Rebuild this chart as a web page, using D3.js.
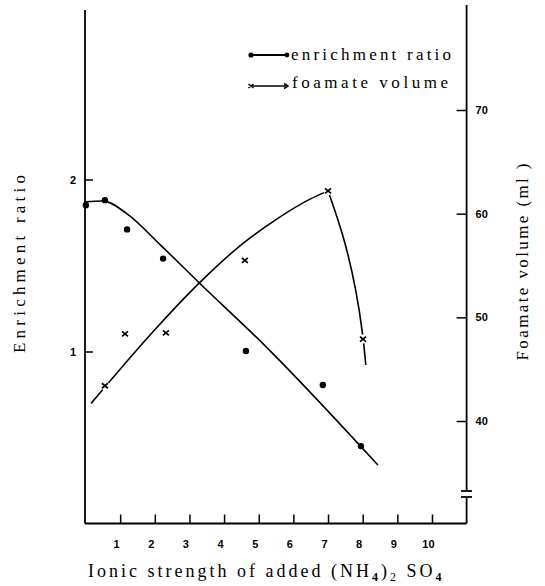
<!DOCTYPE html>
<html>
  <head>
    <script src='https://d3js.org/d3.v7.min.js'></script>
    <style type='text/css'>
      body, html {
        margin: 0;
        padding: 0;
        background: #fff;
      }
      svg {
        display: block;
      }
    </style>
  </head>
  <body>
    <svg width='545' height='586'></svg>

    <script type='text/javascript'>
      var enrichX = [0.01, 0.56, 1.2, 2.24, 4.63, 6.85, 7.95]
      var enrichY = [1.85, 1.88, 1.71, 1.54, 1.003, 0.805, 0.45]

      var foamX = [0.56, 1.14, 2.32, 4.6, 7.0, 8.01]
      var foamY = [43.4, 48.4, 48.5, 55.5, 62.2, 47.9]

      // hand drawn fitted curves
      var enrichFitX = [0, 0.5, 1.2, 2.16, 3.28, 5.2, 8.44]
      var enrichFitY = [1.87, 1.875, 1.8, 1.62, 1.4, 1.03, 0.34]

      var foamRiseX = [0.16, 1.0, 2.0, 3.28, 4.46, 5.53, 6.48, 7.0]
      var foamRiseY = [41.7, 45.0, 48.8, 53.3, 56.9, 59.5, 61.4, 62.2]

      var foamFallX = [7.0, 7.45, 7.8, 8.0, 8.09]
      var foamFallY = [62.2, 57.6, 52.6, 48.3, 45.4]

      var xTicks = [1, 2, 3, 4, 5, 6, 7, 8, 9, 10]
      var leftTicks = [1, 2]
      var rightTicks = [40, 50, 60, 70]

      var svg = d3.select('svg')
      var serif = "'Liberation Serif', 'DejaVu Serif', serif"
      var tickFont = "'Liberation Sans', Arial, sans-serif"

      var x = d3.scaleLinear().domain([0, 11]).range([85.5, 466.6])
      var yL = d3.scaleLinear().domain([0, 2]).range([523.5, 179.5])
      var yR = d3.scaleLinear().domain([40, 70]).range([421, 110])

      function zip(a, b) {
        return a.map(function(v, i) { return [v, b[i]] })
      }

      // axes (ticks + labels from d3, spines drawn by hand)
      var gLeft = svg.append('g')
          .attr('transform', 'translate(85,0)')
          .call(d3.axisLeft(yL).tickValues(leftTicks).tickFormat(d3.format('d')).tickSize(-8).tickPadding(9))
      var gBottom = svg.append('g')
          .attr('transform', 'translate(0,523.5)')
          .call(d3.axisBottom(x).tickValues(xTicks).tickFormat(d3.format('d')).tickSize(-9).tickPadding(17))
      var gRight = svg.append('g')
          .attr('transform', 'translate(466.6,0)')
          .call(d3.axisRight(yR).tickValues(rightTicks).tickFormat(d3.format('d')).tickSize(-10).tickPadding(9))

      ;[gLeft, gBottom, gRight].forEach(function(g) {
        g.select('.domain').remove()
        g.selectAll('line').attr('stroke', '#000').attr('stroke-width', 1.5)
        g.selectAll('text')
          .attr('fill', '#000')
          .style('font-family', tickFont)
          .style('font-weight', 'bold')
          .style('font-size', '11px')
      })
      gBottom.selectAll('text').attr('dx', -4)

      var spine = svg.append('g')
          .attr('stroke', '#000')
          .attr('stroke-width', 1.8)
          .attr('fill', 'none')
      spine.append('line').attr('x1', 85).attr('x2', 85).attr('y1', 10).attr('y2', 523.5)
      spine.append('line').attr('x1', 85).attr('x2', 466.6).attr('y1', 523.5).attr('y2', 523.5)
      spine.append('line').attr('x1', 466.6).attr('x2', 466.6).attr('y1', 5).attr('y2', 491)
      spine.append('line').attr('x1', 466.6).attr('x2', 466.6).attr('y1', 497).attr('y2', 523.5)
      spine.append('line').attr('x1', 461).attr('x2', 472).attr('y1', 491).attr('y2', 491)
      spine.append('line').attr('x1', 461).attr('x2', 472).attr('y1', 497).attr('y2', 497)

      // fitted curves
      var lineL = d3.line()
          .x(function(d) { return x(d[0]) })
          .y(function(d) { return yL(d[1]) })
          .curve(d3.curveMonotoneX)
      var lineR = d3.line()
          .x(function(d) { return x(d[0]) })
          .y(function(d) { return yR(d[1]) })
          .curve(d3.curveMonotoneX)

      var curves = svg.append('g')
          .attr('fill', 'none')
          .attr('stroke', '#000')
          .attr('stroke-width', 1.6)
      curves.append('path').attr('d', lineL(zip(enrichFitX, enrichFitY)))
      curves.append('path').attr('d', lineR(zip(foamRiseX, foamRiseY)))
      curves.append('path').attr('d', lineR.curve(d3.curveNatural)(zip(foamFallX, foamFallY)))

      // markers
      svg.append('g').selectAll('circle')
        .data(zip(enrichX, enrichY))
        .enter().append('circle')
          .attr('cx', function(d) { return x(d[0]) })
          .attr('cy', function(d) { return yL(d[1]) })
          .attr('r', 3.2)
          .attr('fill', '#000')

      var crosses = svg.append('g').selectAll('g')
        .data(zip(foamX, foamY))
        .enter().append('g')
          .attr('transform', function(d) { return 'translate(' + x(d[0]) + ',' + yR(d[1]) + ')' })
      crosses.append('circle').attr('r', 4.5).attr('fill', '#fff')
      crosses.append('path')
          .attr('d', 'M-3,-2.5L3,2.5M-3,2.5L3,-2.5')
          .attr('stroke', '#000')
          .attr('stroke-width', 1.7)

      // legend
      var legend = svg.append('g')
      legend.append('line').attr('x1', 251).attr('x2', 287).attr('y1', 55).attr('y2', 55)
          .attr('stroke', '#000').attr('stroke-width', 1.8)
      legend.append('circle').attr('cx', 251).attr('cy', 55).attr('r', 2.6)
      legend.append('circle').attr('cx', 287).attr('cy', 55).attr('r', 2.4)
      legend.append('text').attr('x', 291).attr('y', 60)
          .attr('textLength', 160).attr('lengthAdjust', 'spacing')
          .style('font-family', serif).style('font-size', '17px')
          .text('enrichment ratio')
      legend.append('line').attr('x1', 251).attr('x2', 286).attr('y1', 86).attr('y2', 86)
          .attr('stroke', '#000').attr('stroke-width', 1.3)
      legend.append('path').attr('d', 'M248.5,84L253.5,88M248.5,88L253.5,84M284,83.5L288,86L284,88.5')
          .attr('stroke', '#000').attr('stroke-width', 1.5).attr('fill', 'none')
      legend.append('text').attr('x', 292).attr('y', 88)
          .attr('textLength', 156).attr('lengthAdjust', 'spacing')
          .style('font-family', serif).style('font-size', '17px')
          .text('foamate volume')

      // axis titles
      svg.append('text')
          .attr('transform', 'translate(25,264) rotate(-90)')
          .attr('text-anchor', 'middle')
          .attr('textLength', 178).attr('lengthAdjust', 'spacing')
          .style('font-family', serif).style('font-size', '17px')
          .text('Enrichment ratio')

      svg.append('text')
          .attr('transform', 'translate(528,262) rotate(-90)')
          .attr('text-anchor', 'middle')
          .attr('textLength', 197).attr('lengthAdjust', 'spacing')
          .style('font-family', serif).style('font-size', '17px')
          .text('Foamate volume (ml )')

      var xt = svg.append('text')
          .attr('x', 88).attr('y', 577)
          .style('font-family', serif).style('font-size', '18px')
          .style('letter-spacing', '3px')
      xt.append('tspan').text('Ionic strength of added (NH')
      xt.append('tspan').attr('baseline-shift', '-30%').style('font-size', '12px').style('font-weight', 'bold').text('4')
      xt.append('tspan').text(')')
      xt.append('tspan').attr('baseline-shift', '-30%').style('font-size', '12px').text('2')
      xt.append('tspan').text(' SO')
      xt.append('tspan').attr('baseline-shift', '-30%').style('font-size', '12px').style('font-weight', 'bold').text('4')
    </script>
  </body>
</html>
